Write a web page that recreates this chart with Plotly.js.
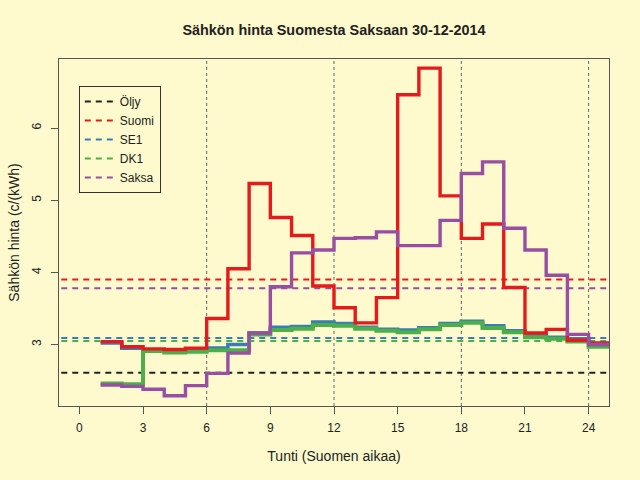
<!DOCTYPE html>
<html>
<head>
<meta charset="utf-8">
<script src="https://cdn.plot.ly/plotly-3.0.1.min.js"></script>
<style>
  html, body { margin: 0; padding: 0; background: #FFFACD; }
  #chart { width: 640px; height: 480px; }
</style>
</head>
<body>
<div id="chart"></div>
<script>
// hourly prices, c/kWh (hour h drawn from h to h+1)
const hours = [1, 2, 3, 4, 5, 6, 7, 8, 9, 10, 11, 12, 13, 14, 15, 16, 17, 18, 19, 20, 21, 22, 23, 24];
const suomi = [3.04, 2.97, 2.94, 2.93, 2.95, 3.36, 4.05, 5.23, 4.76, 4.51, 3.81, 3.51, 3.30, 3.65, 6.46, 6.83, 5.06, 4.47, 4.67, 3.79, 3.16, 3.21, 3.06, 3.02];
const se1 = [3.02, 2.95, 2.92, 2.91, 2.92, 2.95, 3.00, 3.16, 3.24, 3.25, 3.31, 3.29, 3.24, 3.21, 3.20, 3.23, 3.29, 3.32, 3.26, 3.19, 3.13, 3.10, 3.08, 2.99];
const dk1 = [2.46, 2.45, 2.91, 2.89, 2.90, 2.92, 2.92, 3.14, 3.20, 3.22, 3.27, 3.26, 3.22, 3.19, 3.17, 3.21, 3.27, 3.30, 3.23, 3.17, 3.10, 3.08, 3.04, 2.97];
const saksa = [2.44, 2.42, 2.38, 2.29, 2.43, 2.60, 2.88, 3.16, 3.80, 4.27, 4.31, 4.47, 4.48, 4.56, 4.37, 4.37, 4.72, 5.37, 5.53, 4.61, 4.31, 3.96, 3.14, 3.00];

// reference levels (dashed lines + legend)
const refNames = ['Öljy', 'Suomi', 'SE1', 'DK1', 'Saksa'];
const refLevels = [2.61, 3.90, 3.09, 3.05, 3.78];
const refColors = ['#222222', '#E41A1C', '#377EB8', '#4DAF4A', '#984EA3'];

const guideHours = [6, 12, 18, 24];
const xTicks = [0, 3, 6, 9, 12, 15, 18, 21, 24];
const yTicks = [3, 4, 5, 6];

const bg = '#FFFACD';
const fontFam = '"Liberation Sans", Arial, Helvetica, sans-serif';

// add closing hour so the last step gets its width
const stepX = hours.concat([hours[hours.length - 1] + 1]);
const stepY = arr => arr.concat([arr[arr.length - 1]]);

const traces = [];

refLevels.forEach((lvl, i) => {
  traces.push({
    x: [-5, 30],
    y: [lvl, lvl],
    name: refNames[i],
    mode: 'lines',
    type: 'scatter',
    line: { color: refColors[i], width: 2, dash: '6px,5px' },
    hoverinfo: 'skip'
  });
});

function step(vals, color, width) {
  return {
    x: stepX,
    y: stepY(vals),
    mode: 'lines',
    type: 'scatter',
    line: { color: color, width: width, shape: 'hv' },
    showlegend: false
  };
}

traces.push(step(se1, refColors[2], 3.6));
traces.push(step(dk1, refColors[3], 4));
traces.push(step(suomi, refColors[1], 3.4));
traces.push(step(saksa, refColors[4], 3.4));

const shapes = guideHours.map(h => ({
  type: 'line',
  xref: 'x', yref: 'paper',
  x0: h, x1: h, y0: 0, y1: 1,
  layer: 'below',
  line: { color: '#666', width: 1, dash: 'dot' }
}));

const layout = {
  width: 640,
  height: 480,
  margin: { l: 59, r: 31, t: 59, b: 74 },
  paper_bgcolor: bg,
  plot_bgcolor: bg,
  font: { family: fontFam, size: 12, color: '#222' },
  title: {
    text: 'Sähkön hinta Suomesta Saksaan 30-12-2014',
    font: { size: 14.4, weight: 'bold', color: '#222' },
    xref: 'paper', x: 0.5, xanchor: 'center',
    yref: 'container', y: 1 - 30 / 480, yanchor: 'middle'
  },
  xaxis: {
    range: [-0.96, 24.96],
    tickvals: xTicks,
    ticks: 'outside',
    ticklen: 7,
    tickcolor: '#555',
    ticklabelstandoff: 4,
    showgrid: false,
    zeroline: false,
    showline: true,
    mirror: true,
    linecolor: '#555',
    linewidth: 1,
    fixedrange: true,
    title: { text: 'Tunti (Suomen aikaa)', standoff: 16 }
  },
  yaxis: {
    range: [2.148, 6.956],
    tickvals: yTicks,
    tickangle: -90,
    ticks: 'outside',
    ticklen: 7,
    tickcolor: '#555',
    ticklabelstandoff: 5,
    showgrid: false,
    zeroline: false,
    showline: true,
    mirror: true,
    linecolor: '#555',
    linewidth: 1,
    fixedrange: true,
    title: { text: 'Sähkön hinta (c/(kWh)', standoff: 7 }
  },
  shapes: shapes,
  showlegend: true,
  legend: {
    x: 0.036, y: 0.922,
    xanchor: 'left', yanchor: 'top',
    bgcolor: bg,
    bordercolor: '#333',
    borderwidth: 1,
    font: { size: 12 },
    itemwidth: 30
  }
};

Plotly.newPlot('chart', traces, layout, { displayModeBar: false, staticPlot: true });
</script>
</body>
</html>
